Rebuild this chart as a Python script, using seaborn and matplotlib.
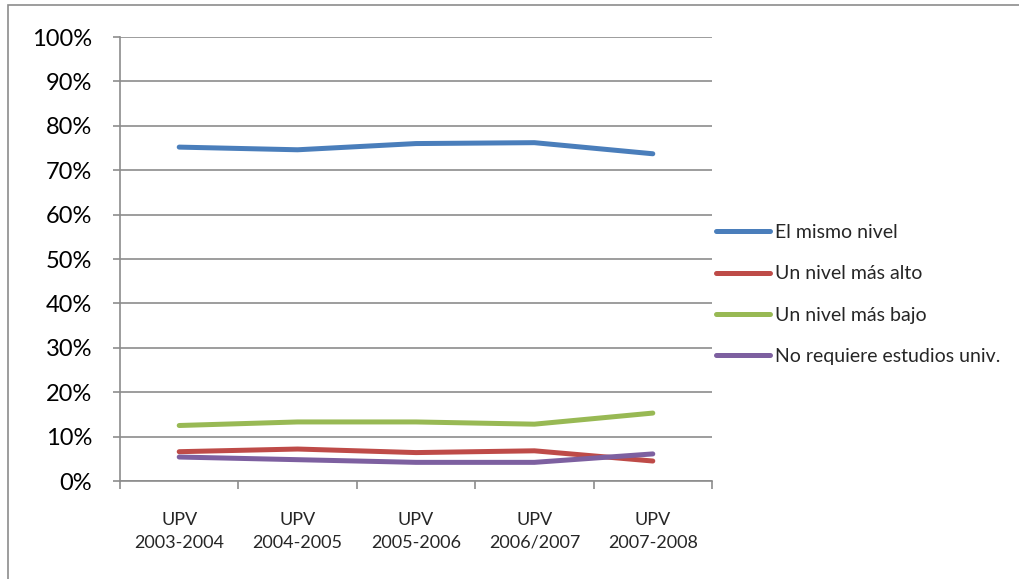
import pandas as pd
import matplotlib.pyplot as plt
import seaborn as sns
from matplotlib.patches import Rectangle
from matplotlib.ticker import PercentFormatter, FixedLocator

periodos = ['UPV\n2003-2004', 'UPV\n2004-2005', 'UPV\n2005-2006', 'UPV\n2006/2007', 'UPV\n2007-2008']
series = ['El mismo nivel', 'Un nivel más alto', 'Un nivel más bajo', 'No requiere estudios univ.']
mismo_nivel = [0.752, 0.746, 0.760, 0.762, 0.737]
mas_alto = [0.066, 0.072, 0.064, 0.068, 0.045]
mas_bajo = [0.125, 0.133, 0.133, 0.128, 0.153]
no_requiere = [0.054, 0.048, 0.042, 0.042, 0.061]
colores = ['#4A7EBB', '#BE4B48', '#98B954', '#7D60A0']

# long format for seaborn
df = pd.DataFrame({
    'periodo': periodos * 4,
    'serie': [s for s in series for _ in periodos],
    'valor': mismo_nivel + mas_alto + mas_bajo + no_requiere,
})

sns.set_style('white')
plt.rcParams['font.family'] = ['Lato', 'DejaVu Sans']

fig = plt.figure(figsize=(10.2, 5.79), dpi=100)
ax = fig.add_axes([120 / 1020, 1 - 481 / 579, 592 / 1020, 444 / 579])

sns.lineplot(data=df, x='periodo', y='valor', hue='serie', hue_order=series,
             palette=colores, linewidth=3.6, ax=ax, sort=False)
for line in ax.get_lines():
    line.set_solid_capstyle('round')

ax.set_xlim(-0.5, 4.5)
ax.set_ylim(0, 1)
ax.set_yticks([i / 10 for i in range(11)])
ax.yaxis.set_major_formatter(PercentFormatter(1.0, decimals=0))
ax.yaxis.grid(True, color='#8c8c8c', linewidth=1.2)
ax.set_axisbelow(True)
ax.set_xlabel('')
ax.set_ylabel('')

for side in ['top', 'right']:
    ax.spines[side].set_visible(False)
for side in ['left', 'bottom']:
    ax.spines[side].set_color('#8c8c8c')
    ax.spines[side].set_linewidth(1.2)

ax.tick_params(axis='y', left=True, length=5, width=1.2, color='#8c8c8c',
               labelsize=17, pad=15, labelcolor='black')
ax.tick_params(axis='x', which='major', length=0, labelsize=13, pad=22)
ax.xaxis.set_minor_locator(FixedLocator([i - 0.5 for i in range(6)]))
ax.tick_params(axis='x', which='minor', bottom=True, length=6, width=1.2, color='#8c8c8c')
for lbl in ax.get_xticklabels():
    lbl.set_linespacing(1.55)

leg = ax.legend(loc='upper left', bbox_to_anchor=(716 / 1020, 1 - 224 / 579),
                bbox_transform=fig.transFigure, frameon=False, fontsize=14,
                handlelength=2.8, handletextpad=0.25, labelspacing=1.25,
                borderaxespad=0, borderpad=0)
for h in leg.get_lines():
    h.set_linewidth(3.6)
    h.set_solid_capstyle('round')

fig.patches.append(Rectangle((8 / 1020, -0.05), 1.2, 1.05 - 5 / 579,
                             transform=fig.transFigure, fill=False,
                             edgecolor='#8c8c8c', linewidth=1.2))

fig.savefig('out.png', dpi=100)
